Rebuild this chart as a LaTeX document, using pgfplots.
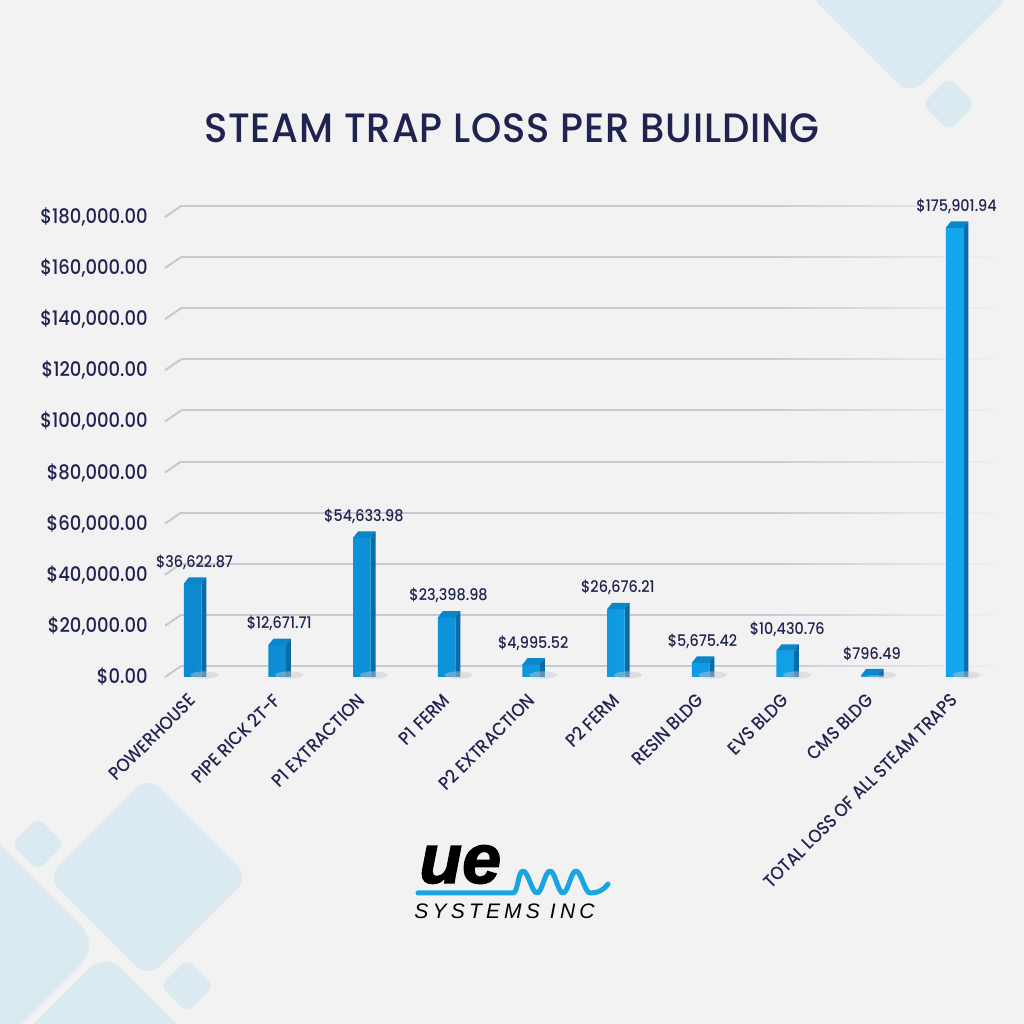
\documentclass[border=0pt]{standalone}
\usepackage{fontspec}
\setmainfont{Poppins Medium}[FakeStretch=0.9]
\newfontfamily\titlefont{Poppins Medium}[FakeStretch=0.94, LetterSpace=2]
\newfontfamily\logobold{Liberation Sans}[UprightFont=* Bold Italic, FakeBold=2]
\newfontfamily\logoit{Liberation Sans}[UprightFont=* Italic, LetterSpace=20]
\usepackage{pgfplots}
\pgfplotsset{compat=1.18}
\usepackage{pgfplotstable}
\usetikzlibrary{fadings}

\definecolor{bg}{HTML}{F2F2F2}
\definecolor{diam}{HTML}{DAEAF0}
\definecolor{navy}{HTML}{1F2350}
\definecolor{gridc}{HTML}{C6C8D2}
\definecolor{barL}{HTML}{0B8AD0}
\definecolor{barR}{HTML}{12A6EE}
\definecolor{barside}{HTML}{0A6CA6}
\definecolor{barcap}{HTML}{0B86CB}
\definecolor{shadow}{HTML}{C4C6CE}
\definecolor{logoblue}{HTML}{1BA4E2}

\pgfdeclareplotmark{barcap}{%
  \pgfpathmoveto{\pgfqpoint{-4.375pt}{-0.2pt}}%
  \pgfpathlineto{\pgfqpoint{4.375pt}{-0.2pt}}%
  \pgfpathlineto{\pgfqpoint{6.875pt}{3pt}}%
  \pgfpathlineto{\pgfqpoint{-1.875pt}{3pt}}%
  \pgfpathclose
  \pgfsetfillcolor{barcap}\pgfusepath{fill}%
  \pgfpathmoveto{\pgfqpoint{4.375pt}{0pt}}%
  \pgfpathlineto{\pgfqpoint{6.875pt}{3pt}}%
  \pgfpathlineto{\pgfqpoint{6.875pt}{-0.2pt}}%
  \pgfpathclose
  \pgfsetfillcolor{barside}\pgfusepath{fill}%
}
\pgfdeclareplotmark{barshadow}{%
  \pgfpathellipse{\pgfqpoint{6pt}{1pt}}{\pgfqpoint{7pt}{0pt}}{\pgfqpoint{0pt}{1.8pt}}%
  \pgfsetfillcolor{shadow}\pgfsetfillopacity{0.45}\pgfusepath{fill}%
}

\pgfplotstableread{
x y z lab
0 36622.87 0 36,622.87
1 12671.71 0 12,671.71
2 54633.98 0 54,633.98
3 23398.98 0 23,398.98
4 4995.52 0 4,995.52
5 26676.21 0 26,676.21
6 5675.42 0 5,675.42
7 10430.76 0 10,430.76
8 796.49 0 796.49
9 175901.94 0 175,901.94
}\data

\newcommand\dia[4]{\fill[diam, rounded corners=#4, shift={(#1,#2)}, rotate=45] (-#3,-#3) rectangle (#3,#3);}

\begin{document}
\begin{tikzpicture}
\useasboundingbox (0,0) rectangle (512pt,512pt);
\clip (0,0) rectangle (512pt,512pt);
\fill[bg] (0,0) rectangle (512pt,512pt);
\begin{scope}[x=0.5pt, y=-0.5pt, shift={(0,512pt)}]
  % decorative diamonds
  \dia{910}{-7}{72.5}{8.7pt}
  \dia{949}{104}{18.8}{3.8pt}
  \dia{148}{877}{71.5}{8.6pt}
  \dia{38}{844}{18.8}{3.8pt}
  \dia{187}{986}{18.8}{3.8pt}
  \dia{-61}{945}{114}{13.7pt}
  \dia{105}{1082}{91.5}{11pt}
  % title
  \node[text=navy, font=\titlefont\fontsize{20.5}{24}\selectfont, inner sep=0pt] at (512,128) {STEAM TRAP LOSS PER BUILDING};
  % logo
  \node[anchor=base west, inner sep=0pt, font=\logobold\fontsize{35}{40}\selectfont, text=black] at (419,883) {ue};
  \draw[logoblue, line width=2.5pt, line cap=round, line join=round]
    (418,893) -- (513,893)
    .. controls (518,893) and (518,871) .. (523,871)
    .. controls (528,871) and (532,893) .. (537,893)
    .. controls (542,893) and (545,871) .. (550,871)
    .. controls (555,871) and (558,893) .. (563,893)
    .. controls (568,893) and (571,871) .. (576,871)
    .. controls (581,871) and (585,893) .. (590,893)
    .. controls (597,893) and (603,891) .. (608,884);
  \node[anchor=base west, inner sep=0pt, font=\logoit\fontsize{10.5}{12}\selectfont, text=black] at (414,919) {SYSTEMS INC};
\end{scope}

\begin{axis}[
  at={(82.5pt,173.5pt)}, anchor=south west,
  scale only axis, width=409.6pt, height=230pt,
  xmin=-0.325, xmax=9.35, ymin=0, ymax=180000,
  clip=false,
  axis line style={draw=none},
  tick style={draw=none},
  ytick={0,20000,...,180000},
  scaled y ticks=false,
  /pgf/number format/assume math mode=true,
  yticklabel={\$\pgfmathprintnumber[fixed,fixed zerofill,precision=2,1000 sep={,}]{\tick}},
  yticklabel style={anchor=east, inner sep=0pt, xshift=-8.5pt, font=\fontsize{10}{12}\selectfont, text=navy},
  xtick={0,...,9},
  xticklabels={POWERHOUSE, PIPE RICK 2T-F, P1 EXTRACTION, P1 FERM, P2 EXTRACTION, P2 FERM, RESIN BLDG, EVS BLDG, CMS BLDG, TOTAL LOSS OF ALL STEAM TRAPS},
  xticklabel style={yshift=-10pt, rotate=45, anchor=east, inner sep=0pt, font=\fontsize{9.2}{11}\selectfont, text=navy},
  ymajorgrids,
  major grid style={gridc, line width=1pt, xshift=8pt, yshift=5.5pt},
]
\pgfplotsinvokeforeach{0,20000,40000,60000,80000,100000,120000,140000,160000,180000}{
  \draw[gridc, line width=1pt] (axis cs:-0.325,#1) -- ++(8pt,5.5pt);
}
\fill[bg, path fading=west] ([yshift=2pt]axis cs:6.58,0) rectangle ([xshift=12pt,yshift=9pt]axis cs:9.35,180000);
\addplot[only marks, mark=barshadow] table[x=x,y=z]{\data};
\addplot[ybar, bar width=2.5pt, bar shift=5.625pt, fill=barside, draw=none] table[x=x,y=y]{\data};
\addplot[ybar, bar width=8.75pt, bar shift=0pt, draw=none, left color=barL, right color=barR,
  nodes near coords={\$\pgfplotspointmeta}, point meta=explicit symbolic,
  nodes near coords style={anchor=south, inner sep=0pt, yshift=6.8pt, xshift=1pt, text=navy, font=\fontsize{8}{9}\selectfont}]
  table[x=x,y=y,meta=lab]{\data};
\addplot[only marks, mark=barcap] table[x=x,y=y]{\data};
\end{axis}
\end{tikzpicture}
\end{document}
